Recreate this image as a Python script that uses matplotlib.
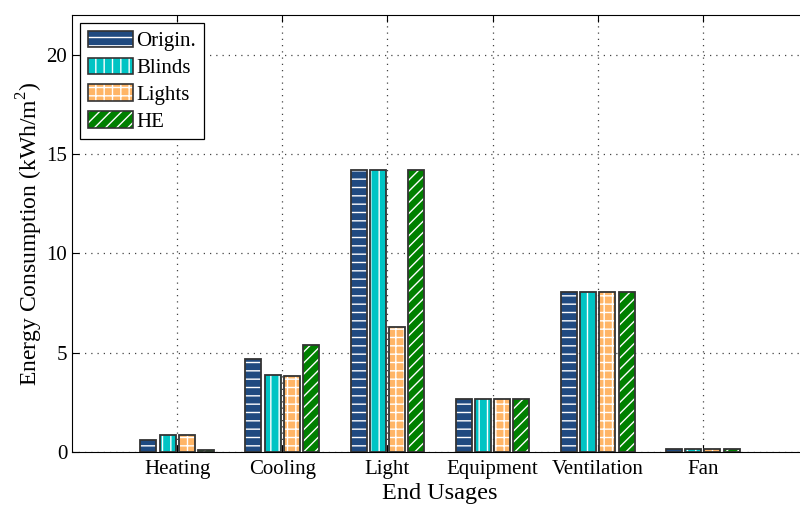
import numpy as np
import matplotlib.pyplot as plt
import matplotlib.patches as mpatches
from matplotlib.legend_handler import HandlerPatch

plt.rcParams['font.family'] = ['Liberation Serif', 'DejaVu Serif']
plt.rcParams['mathtext.fontset'] = 'custom'
plt.rcParams['mathtext.rm'] = 'Liberation Serif'
plt.rcParams['hatch.linewidth'] = 1.0

categories = ['Heating', 'Cooling', 'Light', 'Equipment', 'Ventilation', 'Fan']
series_names = ['Origin.', 'Blinds', 'Lights', 'HE']
origin = [0.6, 4.7, 14.2, 2.65, 8.05, 0.15]
blinds = [0.85, 3.9, 14.2, 2.65, 8.05, 0.15]
lights = [0.85, 3.85, 6.3, 2.65, 8.05, 0.15]
he = [0.1, 5.4, 14.2, 2.65, 8.05, 0.15]

values = [origin, blinds, lights, he]
colors = ['#1f4a80', '#00c4c4', '#ffb566', '#008000']
hatches = ['--', '||', '++', '///']

fig = plt.figure(figsize=(8, 5.05), dpi=100)
ax = fig.add_axes([0.09, 0.105, 0.92, 0.865])

x = np.arange(1, len(categories) + 1)
step = 0.183
width = 0.152
offsets = (np.arange(4) - 1.5) * step

handles = []
for vals, col, hat, off in zip(values, colors, hatches, offsets):
    # bars filled with white hatching
    ax.bar(x + off, vals, width, color=col, edgecolor='white', hatch=hat,
           linewidth=0, zorder=3)
    # dark outline over them
    ax.bar(x + off, vals, width, facecolor='none', edgecolor='#333333',
           linewidth=1.3, zorder=4)
    handles.append(plt.Rectangle((0, 0), 1, 1, facecolor=col, hatch=hat))

ax.set_xlim(0, 7)
ax.set_ylim(0, 22)
ax.set_xticks(x)
ax.set_xticklabels(categories, fontsize=15)
ax.set_yticks([0, 5, 10, 15, 20])
ax.tick_params(axis='y', labelsize=15)
ax.tick_params(direction='in', length=5, width=0.8, top=True, right=True)
ax.tick_params(axis='x', pad=6)
ax.grid(True, linestyle=(0, (1, 4)), color='#444444', linewidth=0.9, zorder=0)
ax.set_axisbelow(True)

ax.set_xlabel('End Usages', fontsize=17.5, labelpad=3)
ax.set_ylabel('Energy Consumption (kWh/m$^2$)', fontsize=17, labelpad=1)


class OutlinedHandler(HandlerPatch):
    def create_artists(self, legend, orig_handle, xdescent, ydescent,
                       width, height, fontsize, trans):
        fill = mpatches.Rectangle((-xdescent, -ydescent), width, height,
                                  facecolor=orig_handle.get_facecolor(),
                                  edgecolor='white', hatch=orig_handle.get_hatch(),
                                  linewidth=0, transform=trans)
        edge = mpatches.Rectangle((-xdescent, -ydescent), width, height,
                                  facecolor='none', edgecolor='#333333',
                                  linewidth=1.2, transform=trans)
        return [fill, edge]


leg = ax.legend(handles, series_names, loc='upper left', fontsize=15,
                handler_map={plt.Rectangle: OutlinedHandler()},
                handlelength=2.2, handleheight=0.85, handletextpad=0.15,
                borderaxespad=0.4, borderpad=0.35, labelspacing=0.3,
                fancybox=False, framealpha=1, edgecolor='black')
leg.get_frame().set_linewidth(0.9)
leg.set_zorder(10)

fig.savefig('out.png', dpi=100)
